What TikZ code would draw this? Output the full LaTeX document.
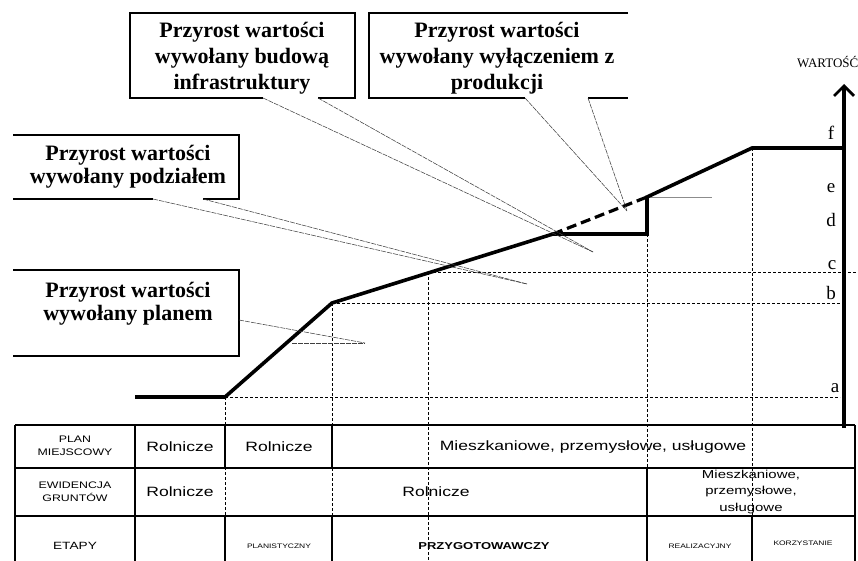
\documentclass[tikz,border=0pt]{standalone}
\usepackage{fontspec}
\setmainfont{Liberation Serif}
\newfontfamily\tabsans[FakeStretch=1.3]{Liberation Sans}
\usetikzlibrary{arrows.meta}
\begin{document}
\begin{tikzpicture}[x=1pt,y=-1pt,
  curve/.style={line width=3.6pt, line join=miter},
  guide/.style={line width=0.6pt, dash pattern=on 3pt off 2pt},
  pointer/.style={line width=0.55pt, black!75, dash pattern=on 5pt off 1pt},
  boxline/.style={line width=1.1pt},
  calltext/.style={font=\fontsize{22}{26}\selectfont\bfseries, align=center, inner sep=0pt},
  tabline/.style={line width=1.3pt},
  celltext/.style={font=\tabsans\fontsize{13.5}{16}\selectfont, inner sep=0pt, align=center},
  headtext/.style={font=\tabsans\fontsize{9.5}{13}\selectfont, inner sep=0pt, align=center},
  smalltext/.style={font=\tabsans\fontsize{6.5}{8}\selectfont, inner sep=0pt},
  axislabel/.style={font=\fontsize{19}{19}\selectfont, inner sep=0pt},
]
\useasboundingbox (0,0) rectangle (858,561);

% ---------- key points of the value curve ----------
\coordinate (p0) at (135,397);
\coordinate (p1) at (225,397);
\coordinate (p2) at (332,303);
\coordinate (p3) at (553,234);
\coordinate (p4) at (647,234);
\coordinate (p5) at (647,197);
\coordinate (p6) at (752,148);
\coordinate (p7) at (844,148);
\coordinate (pc) at (428,272);

% ---------- guide lines ----------
\draw[guide] (p1) -- (840,397);
\draw[guide] (p2) -- (840,303);
\draw[guide] (pc) -- (858,272);
\draw[guide] (p1) -- (225,561);
\draw[guide] (p2) -- (332,561);
\draw[guide] (pc) -- (428,561);
\draw[guide] (p4) -- (647,561);
\draw[guide] (p6) -- (752,561);
\draw[line width=0.5pt, black!45] (p5) -- (712,197);

% ---------- curve ----------
\draw[curve] (p0) -- (p1) -- (p2) -- (p3) -- (p4) -- (p5) -- (p6) -- (p7);
\draw[line width=3.2pt, dash pattern=on 10pt off 5pt] (p3) -- (p5);

% ---------- value axis ----------
\coordinate (axbot) at (844,428);
\coordinate (axtop) at (844,84);
\draw[line width=3.6pt, -{Straight Barb[length=10pt,width=20pt,line width=2.8pt]}] (axbot) -- (axtop);
\node[font=\fontsize{13}{13}\selectfont, anchor=west, inner sep=0pt] (wart) at (797,62) {WARTOŚĆ};
\node[axislabel] (lf) at (831,133) {f};
\node[axislabel] (le) at (831,188) {e};
\node[axislabel] (ld) at (831,220) {d};
\node[axislabel] (lc) at (832,265) {c};
\node[axislabel] (lb) at (831,293) {b};
\node[axislabel] (la) at (835,388) {a};

% ---------- callout boxes ----------
% box 1
\coordinate (b1l) at (263,98); \coordinate (b1r) at (318,98); \coordinate (tip1) at (593,252);
\draw[boxline] (b1l) -| (130,13) -| (355,98) -- (b1r);
\node[calltext] (t1) at (242,58) {Przyrost wartości\\wywołany budową\\infrastruktury};
\draw[pointer] (b1l) -- (tip1);
\draw[pointer] (b1r) -- (tip1);
% box 2
\coordinate (b2l) at (525,98); \coordinate (b2r) at (588,98); \coordinate (tip2) at (627,211);
\draw[boxline] (628,13) -- (369,13) -- (369,98) -- (b2l);
\draw[boxline] (b2r) -- (628,98);
\node[calltext] (t2) at (497,58) {Przyrost wartości\\wywołany wyłączeniem z\\produkcji};
\draw[pointer] (b2l) -- (tip2);
\draw[pointer] (b2r) -- (tip2);
% box 3
\coordinate (b3l) at (153,199); \coordinate (b3r) at (203,199); \coordinate (tip3) at (527,284);
\draw[boxline] (13,135) -- (239,135) -- (239,199) -- (b3r);
\draw[boxline] (b3l) -- (13,199);
\node[calltext, font=\fontsize{22}{23}\selectfont\bfseries] (t3) at (128,167) {Przyrost wartości\\wywołany podziałem};
\draw[pointer] (b3l) -- (tip3);
\draw[pointer] (b3r) -- (tip3);
% box 4
\coordinate (b4a) at (239,320); \coordinate (b4b) at (292,343); \coordinate (tip4) at (365,343);
\draw[boxline] (13,270) -- (239,270) -- (239,356) -- (13,356);
\node[calltext, font=\fontsize{22}{23}\selectfont\bfseries] (t4) at (128,304) {Przyrost wartości\\wywołany planem};
\draw[pointer] (b4a) -- (tip4);
\draw[pointer] (b4b) -- (tip4);

% ---------- table ----------
\draw[tabline] (15,425) -- (855,425);
\draw[tabline] (15,468) -- (855,468);
\draw[tabline] (15,516) -- (855,516);
\draw[tabline] (15,425) -- (15,561);
\draw[tabline] (855,425) -- (855,561);
\draw[tabline] (135,425) -- (135,561);
\draw[tabline] (225,425) -- (225,468);
\draw[tabline] (225,516) -- (225,561);
\draw[tabline] (332,425) -- (332,468);
\draw[tabline] (332,516) -- (332,561);
\draw[tabline] (647,468) -- (647,561);
\draw[tabline] (752,516) -- (752,561);

\node[headtext] (h1) at (75,446) {PLAN\\MIEJSCOWY};
\node[headtext] (h2) at (75,492) {EWIDENCJA\\GRUNTÓW};
\node[headtext, font=\tabsans\fontsize{10.5}{12}\selectfont] (h3) at (75,546) {ETAPY};

\node[celltext] (r11) at (180,447) {Rolnicze};
\node[celltext] (r12) at (279,447) {Rolnicze};
\node[celltext] (r13) at (593,447) {Mieszkaniowe, przemysłowe, usługowe};

\node[celltext] (r21) at (180,492) {Rolnicze};
\node[celltext] (r22) at (436,492) {Rolnicze};
\node[celltext, font=\tabsans\fontsize{11.5}{16.5}\selectfont] (r23) at (751,492) {Mieszkaniowe,\\przemysłowe,\\usługowe};

\node[smalltext] (r32) at (279,546) {PLANISTYCZNY};
\node[celltext, font=\tabsans\bfseries\fontsize{10}{12}\selectfont] (r33) at (484,546) {PRZYGOTOWAWCZY};
\node[smalltext] (r34) at (700,546) {REALIZACYJNY};
\node[smalltext] (r35) at (803,543) {KORZYSTANIE};
\end{tikzpicture}
\end{document}
